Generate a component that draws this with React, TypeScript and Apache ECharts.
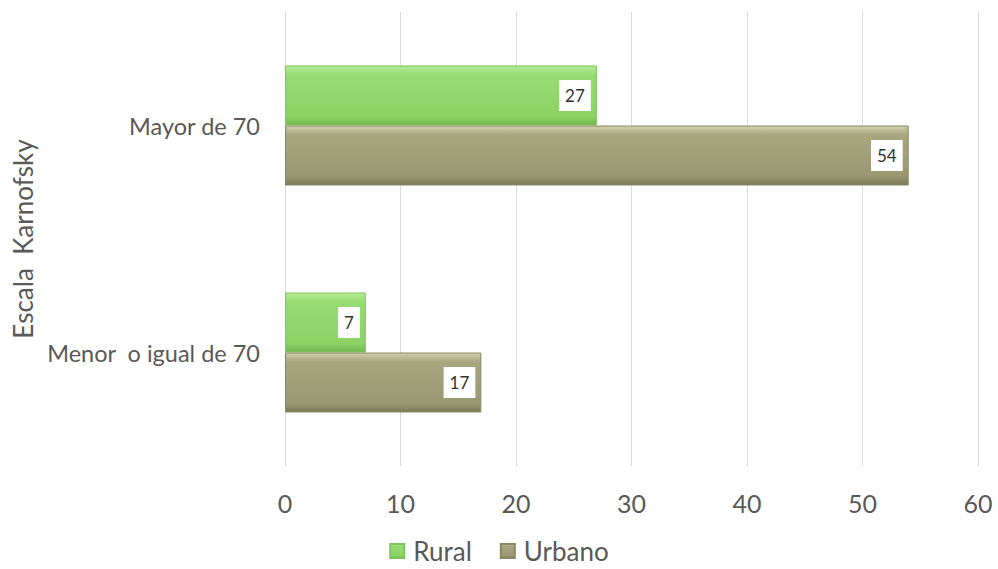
import React, { useEffect, useRef } from "react";
import * as echarts from "echarts";

const categories = ["Menor  o igual de 70", "Mayor de 70"];
const ruralValues = [7, 27];
const urbanoValues = [17, 54];
const xTicks = { min: 0, max: 60, interval: 10 };
const seriesNames = ["Rural", "Urbano"];
const yAxisName = "Escala  Karnofsky";

const FONT = "Lato";

export default function App() {
  const ref = useRef<HTMLDivElement>(null);
  useEffect(() => {
    if (!ref.current) return;
    const chart = echarts.init(ref.current, undefined, { renderer: "svg" });
    const greenGrad = new echarts.graphic.LinearGradient(0, 0, 0, 1, [
      { offset: 0, color: "#b4ec97" },
      { offset: 0.15, color: "#97dc71" },
      { offset: 0.85, color: "#8cd265" },
      { offset: 1, color: "#74b950" },
    ]);
    const oliveGrad = new echarts.graphic.LinearGradient(0, 0, 0, 1, [
      { offset: 0, color: "#d2d0ad" },
      { offset: 0.15, color: "#a8a67f" },
      { offset: 0.85, color: "#9a9872" },
      { offset: 1, color: "#7c7a58" },
    ]);
    const label = {
      show: true,
      position: "insideRight",
      distance: 6,
      color: "#333333",
      backgroundColor: "#ffffff",
      fontFamily: FONT,
      fontSize: 17,
      padding: [8, 6, 6, 6],
    };
    chart.setOption({
      animation: false,
      textStyle: { fontFamily: FONT },
      grid: {
        left: 285,
        right: 20,
        top: 12,
        bottom: 103,
        containLabel: false,
        outerBoundsMode: "none",
      },
      legend: {
        bottom: 0,
        left: "center",
        itemWidth: 14,
        itemHeight: 14,
        itemGap: 28,
        icon: "rect",
        textStyle: { fontFamily: FONT, fontSize: 26, color: "#595959", padding: [0, 0, 0, 4] },
        data: seriesNames,
      },
      xAxis: {
        type: "value",
        min: xTicks.min,
        max: xTicks.max,
        interval: xTicks.interval,
        axisLine: { show: false },
        axisTick: { show: false },
        splitLine: { show: true, lineStyle: { color: "#d9d9d9", width: 1 } },
        axisLabel: { fontFamily: FONT, fontSize: 25, color: "#595959", margin: 24 },
      },
      yAxis: {
        type: "category",
        data: categories,
        name: yAxisName,
        nameLocation: "middle",
        nameRotate: 90,
        nameGap: 246,
        nameTextStyle: { fontFamily: FONT, fontSize: 26, color: "#595959" },
        axisLine: { show: true, lineStyle: { color: "#d9d9d9" } },
        axisTick: { show: false },
        axisLabel: { fontFamily: FONT, fontSize: 23.5, color: "#595959", margin: 25 },
      },
      series: [
        {
          name: seriesNames[0],
          type: "bar",
          data: ruralValues,
          barWidth: 60,
          barGap: "0%",
          itemStyle: { color: greenGrad, borderColor: "#7fc45b", borderWidth: 1 },
          label,
        },
        {
          name: seriesNames[1],
          type: "bar",
          data: urbanoValues,
          barWidth: 60,
          barGap: "0%",
          itemStyle: { color: oliveGrad, borderColor: "#8a8864", borderWidth: 1 },
          label,
        },
      ],
    });
    return () => chart.dispose();
  }, []);
  return (
    <div
      ref={ref}
      style={{ position: "fixed", left: 0, top: 0, width: 998, height: 569, background: "#ffffff" }}
    />
  );
}
